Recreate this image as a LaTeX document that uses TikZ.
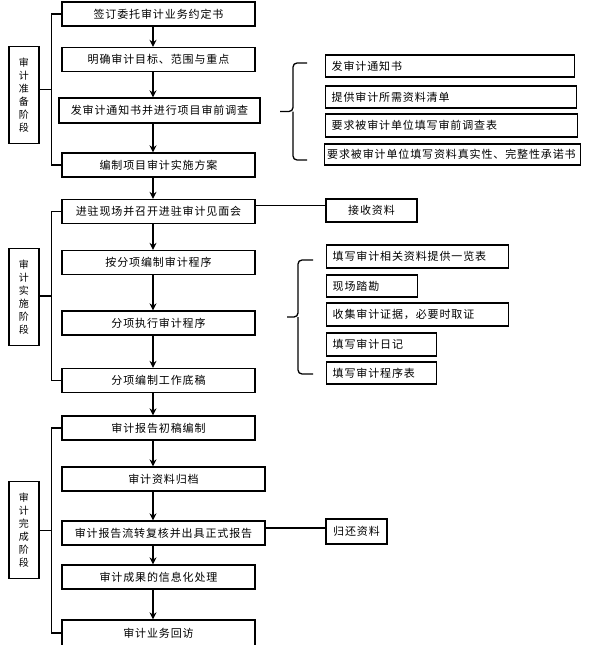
\documentclass[tikz,border=0pt]{standalone}
\usepackage{fontspec}
\newfontfamily\cjk[LetterSpace=8]{Noto Sans CJK SC}
\usetikzlibrary{arrows.meta,calc}

\tikzset{
  stepbox/.style={draw, line width=1.3pt, minimum width=193pt, minimum height=24pt,
    inner sep=0pt, font=\cjk\fontsize{11}{13}\selectfont},
  subbox/.style={draw, line width=1.3pt, anchor=west, text width=#1, align=left,
    minimum height=22pt, inner xsep=6pt, inner ysep=0pt, font=\cjk\fontsize{11}{13}\selectfont},
  stagebox/.style={draw, line width=1.3pt, minimum width=30pt, minimum height=97pt,
    align=center, inner sep=0pt, font=\cjk\fontsize{10}{13}\selectfont},
  link/.style={line width=1.3pt},
}

\begin{document}
\begin{tikzpicture}[x=1pt, y=-1pt, >={Stealth[length=7pt,width=7pt]}]
  \useasboundingbox (0,0) rectangle (589,645);

  \node [stepbox] (s1) at (158.5,14) {签订委托审计业务约定书};
  \node [stepbox] (s2) at (158.5,59.5) {明确审计目标、范围与重点};
  \node [stepbox, minimum width=201pt, minimum height=25pt] (s3) at (159.5,110.5) {发审计通知书并进行项目审前调查};
  \node [stepbox] (s4) at (158.5,165) {编制项目审计实施方案};
  \node [stepbox] (s5) at (158.5,211.5) {进驻现场并召开进驻审计见面会};
  \node [stepbox] (s6) at (158.5,262.5) {按分项编制审计程序};
  \node [stepbox] (s7) at (158.5,323) {分项执行审计程序};
  \node [stepbox] (s8) at (158.5,380.5) {分项编制工作底稿};
  \node [stepbox] (s9) at (158.5,428) {审计报告初稿编制};
  \node [stepbox, minimum width=203pt] (s10) at (163.5,479) {审计资料归档};
  \node [stepbox, minimum width=203pt] (s11) at (163.5,533) {审计报告流转复核并出具正式报告};
  \node [stepbox] (s12) at (158.5,577) {审计成果的信息化处理};
  \node [stepbox, minimum height=26pt] (s13) at (158.5,633) {审计业务回访};

  \node [stagebox] (lbl1) at (24,95) {审\\计\\准\\备\\阶\\段};
  \node [stagebox] (lbl2) at (24,297) {审\\计\\实\\施\\阶\\段};
  \node [stagebox] (lbl3) at (24,530) {审\\计\\完\\成\\阶\\段};

  \node [subbox=237pt] (r1) at (325,66) {发审计通知书};
  \node [subbox=239pt] (r2) at (325,97) {提供审计所需资料清单};
  \node [subbox=240pt, minimum height=23pt] (r3) at (325,125.5) {要求被审计单位填写审前调查表};
  \node [subbox=251pt, inner xsep=2.5pt, minimum height=21pt] (r4) at (324,154.5) {要求被审计单位填写资料真实性、完整性承诺书};

  \node [draw, link, minimum width=91pt, minimum height=23pt, inner sep=0pt,
    font=\cjk\fontsize{11}{13}\selectfont] (q0) at (371.5,210.5) {接收资料};
  \node [subbox=170pt, minimum height=23pt] (q1) at (326,256.5) {填写审计相关资料提供一览表};
  \node [subbox=79pt] (q2) at (326,286) {现场踏勘};
  \node [subbox=170pt, minimum height=23pt] (q3) at (326,314.5) {收集审计证据，必要时取证};
  \node [subbox=98pt, minimum height=23pt] (q4) at (326,344.5) {填写审计日记};
  \node [subbox=98pt] (q5) at (326,373) {填写审计程序表};

  \node [draw, link, minimum width=61pt, minimum height=25pt, inner sep=0pt,
    font=\cjk\fontsize{11}{13}\selectfont] (g1) at (356.5,531.5) {归还资料};

  \coordinate (ax) at (153,0);
  \draw [link, ->] (s1.south -| ax) -- (s2.north -| ax);
  \draw [link, ->] (s2.south -| ax) -- (s3.north -| ax);
  \draw [link, ->] (s3.south -| ax) -- (s4.north -| ax);
  \draw [link, ->] (s4.south -| ax) -- (s5.north -| ax);
  \draw [link, ->] (s5.south -| ax) -- (s6.north -| ax);
  \draw [link, ->] (s6.south -| ax) -- (s7.north -| ax);
  \draw [link, ->] (s7.south -| ax) -- (s8.north -| ax);
  \draw [link, ->] (s8.south -| ax) -- (s9.north -| ax);
  \draw [link, ->] (s9.south -| ax) -- (s10.north -| ax);
  \draw [link, ->] (s10.south -| ax) -- (s11.north -| ax);
  \draw [link, ->] (s11.south -| ax) -- (s12.north -| ax);
  \draw [link, ->] (s12.south -| ax) -- (s13.north -| ax);

  \coordinate (m1) at ($(s1.west)!.5!(s4.west) + (-10,0)$);
  \coordinate (m2) at ($(s5.west)!.5!(s8.west) + (-10,0)$);
  \coordinate (m3) at ($(s9.west)!.5!(s13.west) + (-10,0)$);
  \draw [link] (s1.west) -- ++(-10,0) |- (s4.west);
  \draw [link] (lbl1.east |- m1) -- (m1);
  \draw [link] (s5.west) -- ++(-10,0) |- (s8.west);
  \draw [link] (lbl2.east |- m2) -- (m2);
  \draw [link] (s9.west) -- ++(-10,0) |- (s13.west);
  \draw [link] (lbl3.east |- m3) -- (m3);

  \draw [link, rounded corners=4pt] (307,63) -| (293,111.5) -- (280,111.5);
  \draw [link, rounded corners=4pt] (307,160) -| (293,111.5);
  \draw [link, rounded corners=4pt] (313,260) -| (298,317) -- (287,317);
  \draw [link, rounded corners=4pt] (313,374) -| (298,317);

  \draw [link] ([yshift=6pt]s5.east) -- ([yshift=6pt]s5.east -| q0.west);
  \draw [link] ([yshift=5pt]s11.east) -- ([yshift=5pt]s11.east -| g1.west);
\end{tikzpicture}
\end{document}
